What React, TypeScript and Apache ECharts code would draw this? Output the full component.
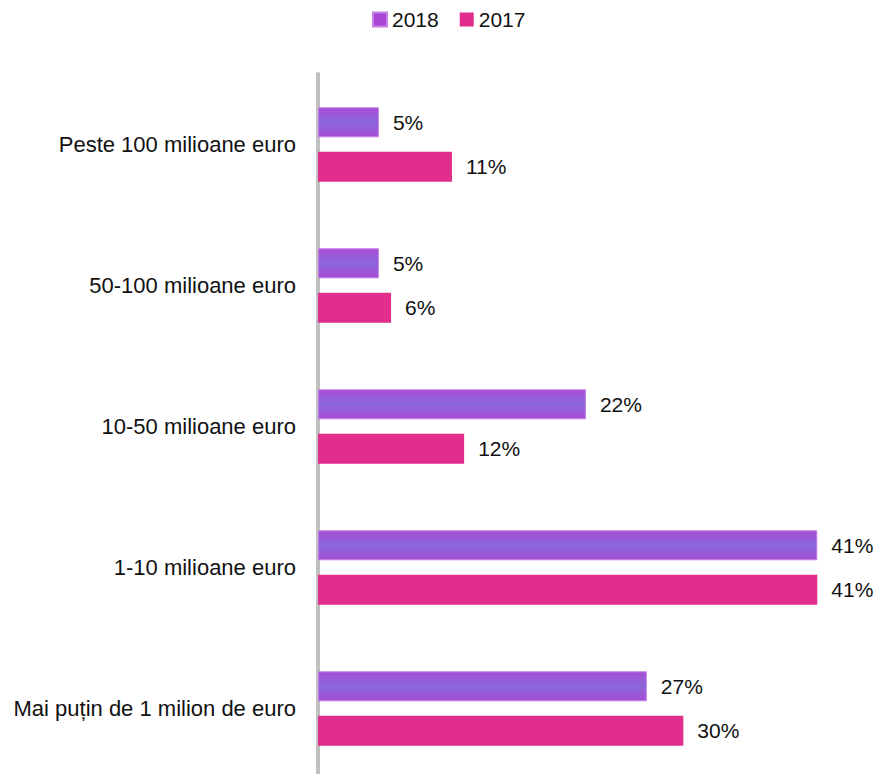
import React, { useEffect, useRef } from "react";
import * as echarts from "echarts";

const categories = [
  "Peste 100 milioane euro",
  "50-100 milioane euro",
  "10-50 milioane euro",
  "1-10 milioane euro",
  "Mai puțin de 1 milion de euro",
];
const values2018 = [5, 5, 22, 41, 27];
const values2017 = [11, 6, 12, 41, 30];
const seriesNames = ["2018", "2017"];

export default function App() {
  const ref = useRef<HTMLDivElement>(null);
  useEffect(() => {
    if (!ref.current) return;
    const chart = echarts.init(ref.current, null, { renderer: "svg" });
    const font = "'Liberation Sans', Arial, sans-serif";
    const grad2018 = new echarts.graphic.LinearGradient(0, 0, 0, 1, [
      { offset: 0, color: "#a64dd3" },
      { offset: 0.5, color: "#8a67da" },
      { offset: 1, color: "#a64dd3" },
    ]);
    const labelStyle = {
      show: true,
      position: "right",
      distance: 14,
      formatter: "{c}%",
      fontFamily: font,
      fontSize: 21,
      color: "#111",
    };
    chart.setOption({
      animation: false,
      backgroundColor: "#ffffff",
      legend: {
        top: 9,
        left: 372,
        padding: 0,
        itemWidth: 14,
        itemHeight: 14,
        itemGap: 21,
        icon: "rect",
        textStyle: { fontFamily: font, fontSize: 21, color: "#111" },
        data: [
          { name: seriesNames[0], itemStyle: { color: "#a846d4" } },
          { name: seriesNames[1], itemStyle: { color: "#e12d8b" } },
        ],
      },
      grid: {
        left: 318,
        right: 14,
        top: 74,
        bottom: -5,
        containLabel: false,
        outerBoundsMode: "none",
      },
      xAxis: {
        type: "value",
        min: 0,
        max: 45,
        show: false,
      },
      yAxis: {
        type: "category",
        inverse: true,
        data: categories,
        axisLine: { show: true, lineStyle: { color: "#c0c0c0", width: 4 } },
        axisTick: { show: false },
        axisLabel: {
          margin: 22,
          fontFamily: font,
          fontSize: 22,
          color: "#111",
        },
      },
      series: [
        {
          name: seriesNames[0],
          type: "bar",
          data: values2018,
          barWidth: 30,
          barGap: "48%",
          itemStyle: { color: grad2018, borderColor: "#c77ee6", borderWidth: 1 },
          label: labelStyle,
        },
        {
          name: seriesNames[1],
          type: "bar",
          data: values2017,
          barWidth: 30,
          itemStyle: { color: "#e12d8b" },
          label: labelStyle,
        },
      ],
    });
    return () => chart.dispose();
  }, []);
  return (
    <div
      ref={ref}
      style={{ position: "absolute", left: 0, top: 0, width: 880, height: 774 }}
    />
  );
}
